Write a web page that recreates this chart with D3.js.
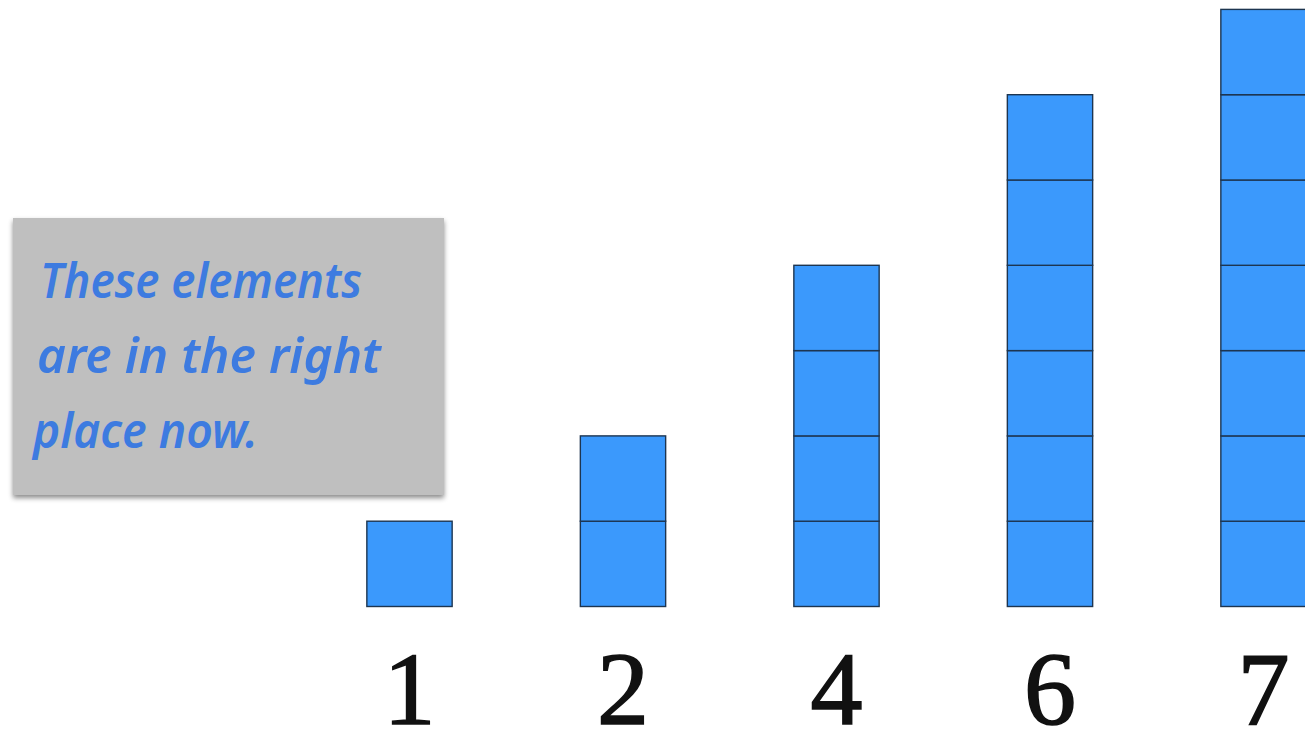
<!DOCTYPE html>
<html><head><meta charset="utf-8">
<script src="https://cdn.jsdelivr.net/npm/d3@7"></script>
<style>html,body{margin:0;padding:0;background:#fff;overflow:hidden}</style>
</head><body>
<svg id="c" width="1305" height="730"></svg>
<script>
const categories = ["1", "2", "4", "6", "7"];
const values = [1, 2, 4, 6, 7];
const noteLines = ["These elements", "are in the right", "place now."];

const svg = d3.select("#c");
const defs = svg.append("defs");
const f = defs.append("filter").attr("id","sh").attr("x","-10%").attr("y","-10%").attr("width","120%").attr("height","130%");
f.append("feDropShadow").attr("dx",0).attr("dy",3).attr("stdDeviation",2.5).attr("flood-color","#000").attr("flood-opacity",0.45);

const x = d3.scaleBand().domain(categories).range([302.75, 1370.25]).paddingInner(0.6).paddingOuter(0.3);
const y = d3.scaleLinear().domain([0, 7]).range([606.5, 9.4]);
const unit = y(0) - y(1);

// columns of stacked unit squares
const cols = svg.append("g").selectAll("g").data(categories.map((c,i)=>({c, v: values[i]}))).join("g");
cols.selectAll("rect").data(d => d3.range(d.v).map(k => ({c: d.c, k}))).join("rect")
  .attr("x", d => x(d.c) + x.bandwidth()/2 - unit/2)
  .attr("y", d => y(d.k + 1))
  .attr("width", unit)
  .attr("height", unit)
  .attr("fill", "#3b99fc")
  .attr("stroke", "#1d3550")
  .attr("stroke-width", 1.4);

// category labels
svg.append("g").selectAll("text").data(categories).join("text")
  .attr("x", d => x(d) + x.bandwidth()/2)
  .attr("y", 724)
  .attr("text-anchor", "middle")
  .attr("font-family", "'Liberation Serif', serif")
  .attr("font-size", 104)
  .attr("fill", "#111")
  .attr("stroke", "#111")
  .attr("stroke-width", 1.6)
  .text(d => d);

// note box
svg.append("rect").attr("x", 13).attr("y", 218).attr("width", 431).attr("height", 277)
  .attr("fill", "#bfbfbf").attr("filter", "url(#sh)");
const lineX = [40, 37, 33];
const lineW = [322, 344, 225];
const lineY = [298, 373, 448];
svg.append("g").selectAll("text").data(noteLines).join("text")
  .attr("x", (d,i) => lineX[i])
  .attr("y", (d,i) => lineY[i])
  .attr("textLength", (d,i) => lineW[i])
  .attr("lengthAdjust", "spacingAndGlyphs")
  .attr("font-family", "'Noto Sans', sans-serif")
  .attr("font-style", "italic")
  .attr("font-weight", "600")
  .attr("font-size", 48)
  .attr("fill", "#3d7be0")
  .text(d => d);
</script>
</body></html>
